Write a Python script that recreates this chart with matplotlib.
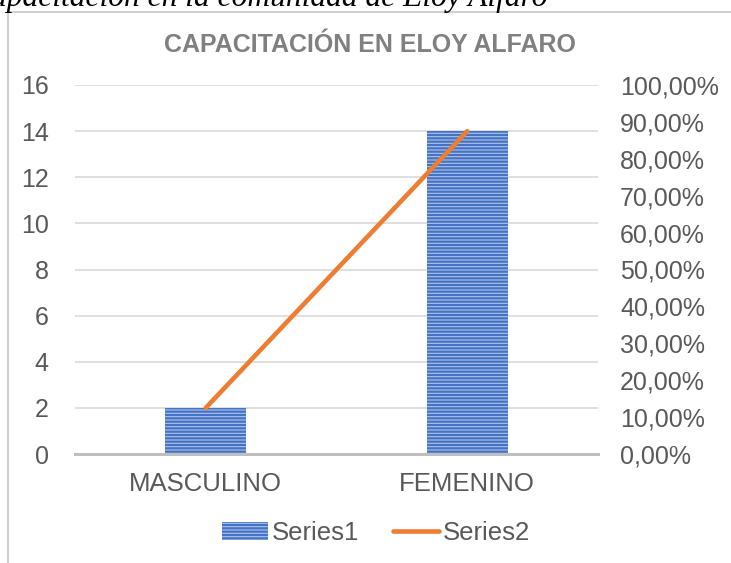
import matplotlib.pyplot as plt
from matplotlib.patches import Rectangle
from matplotlib.ticker import FuncFormatter
from matplotlib.lines import Line2D

# data
categories = ["MASCULINO", "FEMENINO"]
series1 = [2, 14]
series2 = [0.125, 0.875]
left_ticks = [0, 2, 4, 6, 8, 10, 12, 14, 16]
right_ticks = [0.0, 0.1, 0.2, 0.3, 0.4, 0.5, 0.6, 0.7, 0.8, 0.9, 1.0]

plt.rcParams['font.family'] = ['Liberation Sans', 'DejaVu Sans']
plt.rcParams['hatch.linewidth'] = 1.6

W, H = 731, 563
fig = plt.figure(figsize=(W / 100, H / 100), dpi=100)

# chart frame (left/top edges visible in the reference)
fig.patches.append(Rectangle((8 / W, -0.1), 1.2, 0.1 + (1 - 12 / H), transform=fig.transFigure,
                             fill=False, edgecolor='#D0D0D0', lw=1.5))

# cut-off caption above the chart
fig.text(547 / W, 1 - 6 / H, "Capacitación en la comunidad de Eloy Alfaro", ha='right', va='baseline',
         family='Liberation Serif', style='italic', fontsize=22.7, color='black')

ax = fig.add_axes([75 / W, 1 - 454 / H, (598 - 75) / W, (454 - 85) / H])
x = range(len(categories))
ax.bar(x, series1, width=0.31, color='#AFC3E8', edgecolor='#4472C4', linewidth=0, hatch='-----',
       zorder=2, label='Series1')
ax.set_xlim(-0.5, 1.5)
ax.set_ylim(0, 16)
ax.set_yticks(left_ticks)
ax.set_xticks(list(x))
ax.set_xticklabels(categories)
ax.grid(axis='y', color='#D9D9D9', lw=1.2, zorder=0)
for s in ['top', 'right', 'left']:
    ax.spines[s].set_visible(False)
ax.spines['bottom'].set_color('#BFBFBF')
ax.spines['bottom'].set_linewidth(2.2)
ax.spines['bottom'].set_zorder(3)
ax.tick_params(axis='y', length=0, pad=19, labelsize=18, labelcolor='#595959')
ax.tick_params(axis='x', length=0, pad=13, labelsize=18.5, labelcolor='#595959')

ax2 = ax.twinx()
ax2.plot(list(x), series2, color='#ED7D31', lw=3.3, solid_capstyle='round', zorder=4)
ax2.set_ylim(0, 1.0)
ax2.set_yticks(right_ticks)
ax2.yaxis.set_major_formatter(FuncFormatter(lambda v, p: f"{v * 100:.2f}".replace('.', ',') + "%"))
for s in ['top', 'right', 'left', 'bottom']:
    ax2.spines[s].set_visible(False)
ax2.tick_params(axis='y', length=0, pad=16, labelsize=18, labelcolor='#595959')

fig.text(370 / W, 1 - 45 / H, "CAPACITACIÓN EN ELOY ALFARO", ha='center', va='center',
         fontsize=18, fontweight='bold', color='#808080')

handles = [Rectangle((0, 0), 1, 1, facecolor='#AFC3E8', edgecolor='#4472C4', lw=0, hatch='-----'),
           Line2D([0], [0], color='#ED7D31', lw=3.3, solid_capstyle='round')]
fig.legend(handles, ['Series1', 'Series2'], loc='center', bbox_to_anchor=(376 / W, 1 - 533 / H),
           ncol=2, frameon=False, fontsize=18.5, handlelength=1.8, handletextpad=0.15,
           columnspacing=1.3, labelcolor='#595959')

fig.savefig('out.png', dpi=100)
